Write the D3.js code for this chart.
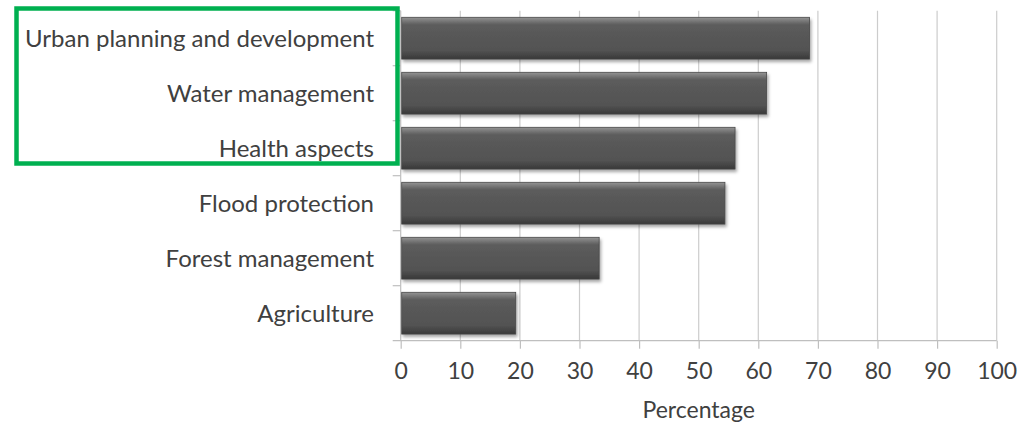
<!DOCTYPE html>
<html>
<head>
<meta charset="utf-8">
<script src="https://cdn.jsdelivr.net/npm/d3@7/dist/d3.min.js"></script>
<style>
  body { margin: 0; background: #fff; }
  text { font-family: Lato, "Open Sans", sans-serif; fill: #404040; }
</style>
</head>
<body>
<script>
var categories = ["Urban planning and development", "Water management", "Health aspects",
                  "Flood protection", "Forest management", "Agriculture"];
var values = [68.6, 61.4, 56.1, 54.4, 33.3, 19.3];
var xTicks = [0, 10, 20, 30, 40, 50, 60, 70, 80, 90, 100];
var xTitle = "Percentage";

var width = 1028, height = 427;
var plotLeft = 400.7, plotRight = 996.7, plotTop = 10.7, plotBottom = 340.7;

var svg = d3.select("body").append("svg")
    .attr("width", width)
    .attr("height", height);

var defs = svg.append("defs");
var grad = defs.append("linearGradient")
    .attr("id", "barGrad")
    .attr("x1", 0).attr("y1", 0).attr("x2", 0).attr("y2", 1);
grad.append("stop").attr("offset", "0%").attr("stop-color", "#959595");
grad.append("stop").attr("offset", "10%").attr("stop-color", "#747474");
grad.append("stop").attr("offset", "18%").attr("stop-color", "#5c5c5c");
grad.append("stop").attr("offset", "80%").attr("stop-color", "#525252");
grad.append("stop").attr("offset", "100%").attr("stop-color", "#383838");

var shadow = defs.append("filter").attr("id", "shadow")
    .attr("x", "-5%").attr("y", "-20%").attr("width", "110%").attr("height", "150%");
shadow.append("feDropShadow")
    .attr("dx", 1.5).attr("dy", 2.5).attr("stdDeviation", 1.5)
    .attr("flood-color", "#000").attr("flood-opacity", 0.35);

var x = d3.scaleLinear().domain([0, 100]).range([plotLeft, plotRight]);
var y = d3.scaleBand().domain(categories).range([plotTop, plotBottom]).paddingInner(0.24).paddingOuter(0.12);
var yEdges = d3.scaleBand().domain(categories).range([plotTop, plotBottom]);

// gridlines
svg.append("g").selectAll("line")
    .data(xTicks.slice(1))
    .enter().append("line")
    .attr("x1", function(d) { return x(d); })
    .attr("x2", function(d) { return x(d); })
    .attr("y1", plotTop)
    .attr("y2", plotBottom)
    .attr("stroke", "#cccccc")
    .attr("stroke-width", 1.2);

// x axis
var xAxis = svg.append("g")
    .attr("transform", "translate(0," + plotBottom + ")")
    .call(d3.axisBottom(x).tickValues(xTicks).tickSize(8).tickPadding(14));
xAxis.select(".domain").remove();
xAxis.selectAll(".tick line").attr("stroke", "#bfbfbf").attr("stroke-width", 1.2);
xAxis.selectAll(".tick text").style("font-size", "23px").style("fill", "#404040");
xAxis.append("line")
    .attr("x1", plotLeft - 8).attr("x2", plotRight)
    .attr("y1", 0).attr("y2", 0)
    .attr("stroke", "#bfbfbf").attr("stroke-width", 1.2);

// y axis line and ticks at category edges
svg.append("line")
    .attr("x1", plotLeft).attr("x2", plotLeft)
    .attr("y1", plotTop).attr("y2", plotBottom)
    .attr("stroke", "#bfbfbf").attr("stroke-width", 1.2);
svg.append("g").selectAll("line")
    .data(categories)
    .enter().append("line")
    .attr("x1", plotLeft - 8).attr("x2", plotLeft)
    .attr("y1", function(d) { return yEdges(d); })
    .attr("y2", function(d) { return yEdges(d); })
    .attr("stroke", "#bfbfbf").attr("stroke-width", 1.2);

// category labels
svg.append("g").selectAll("text")
    .data(categories)
    .enter().append("text")
    .attr("x", 374)
    .attr("y", function(d) { return yEdges(d) + yEdges.bandwidth() / 2; })
    .attr("dy", "0.35em")
    .attr("text-anchor", "end")
    .style("font-size", "24px")
    .text(function(d) { return d; });

// bars
svg.append("g").selectAll("rect")
    .data(values)
    .enter().append("rect")
    .attr("x", x(0) + 1)
    .attr("y", function(d, i) { return y(categories[i]); })
    .attr("width", function(d) { return x(d) - x(0) - 1; })
    .attr("height", y.bandwidth())
    .attr("fill", "url(#barGrad)")
    .attr("stroke", "#484848")
    .attr("stroke-width", 0.8)
    .attr("filter", "url(#shadow)");

// axis title
svg.append("text")
    .attr("x", (plotLeft + plotRight) / 2)
    .attr("y", 418)
    .attr("text-anchor", "middle")
    .style("font-size", "23px")
    .text(xTitle);

// green highlight box
svg.append("rect")
    .attr("x", 16.5).attr("y", 8.5)
    .attr("width", 381).attr("height", 155)
    .attr("fill", "none")
    .attr("stroke", "#00b050")
    .attr("stroke-width", 4.5);
</script>
</body>
</html>
